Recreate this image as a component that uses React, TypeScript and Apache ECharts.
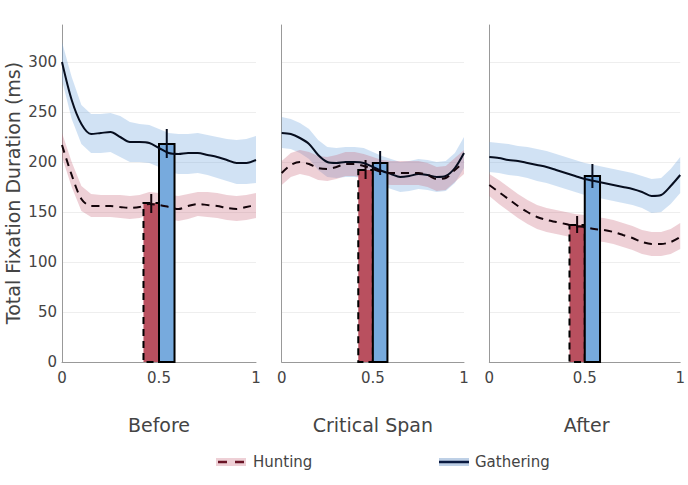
import React, { useEffect, useRef } from 'react';
import * as echarts from 'echarts';

// ---------- data ----------
const panelTitles = ['Before', 'Critical Span', 'After'];
const xPoints = [0, 0.05, 0.1, 0.15, 0.2, 0.25, 0.3, 0.35, 0.4, 0.45, 0.5, 0.55, 0.6, 0.65, 0.7, 0.75, 0.8, 0.85, 0.9, 0.95, 1];
const xTicks = [0, 0.5, 1];
const yTicks = [0, 50, 100, 150, 200, 250, 300];

// Before
const gatheringBefore = [300, 262, 238, 228, 229, 230, 225, 220, 220, 219, 214, 209, 208, 209, 209, 207, 205, 202, 199, 199, 202];
const gatheringBeforeHigh = [320, 285, 257, 248, 248, 249, 246, 240, 238, 237, 233, 229, 228, 228, 229, 227, 225, 223, 222, 223, 226];
const gatheringBeforeLow = [282, 243, 218, 209, 209, 210, 205, 200, 200, 199, 195, 190, 188, 188, 189, 187, 184, 181, 178, 178, 179];
const huntingBefore = [217, 187, 163, 156, 156, 156, 155, 154, 155, 158, 157, 155, 153, 156, 158, 157, 156, 154, 153, 155, 157];
const huntingBeforeHigh = [229, 200, 176, 168, 167, 167, 167, 166, 167, 170, 169, 167, 166, 168, 170, 170, 169, 167, 166, 167, 169];
const huntingBeforeLow = [205, 175, 151, 145, 145, 145, 144, 143, 144, 147, 146, 143, 141, 143, 146, 145, 144, 142, 141, 142, 144];

// Critical Span
const gatheringCritical = [229, 228, 224, 218, 207, 200, 199, 200, 200, 199, 195, 191, 188, 185, 186, 188, 187, 185, 186, 194, 209];
const gatheringCriticalHigh = [245, 243, 239, 233, 222, 215, 214, 215, 215, 214, 210, 206, 203, 200, 201, 203, 202, 200, 201, 209, 225];
const gatheringCriticalLow = [214, 213, 209, 203, 192, 185, 184, 185, 185, 184, 180, 176, 173, 170, 171, 173, 172, 170, 171, 179, 194];
const huntingCritical = [189, 197, 200, 198, 194, 193, 195, 198, 198, 196, 193, 190, 189, 189, 189, 189, 187, 183, 184, 192, 200];
const huntingCriticalHigh = [201, 209, 212, 210, 206, 205, 207, 210, 210, 208, 205, 202, 201, 201, 201, 201, 199, 195, 196, 204, 212];
const huntingCriticalLow = [177, 185, 188, 186, 182, 181, 183, 186, 186, 184, 181, 178, 177, 177, 177, 177, 175, 171, 172, 180, 188];

// After
const gatheringAfter = [205, 204, 202, 201, 199, 197, 195, 192, 189, 186, 183, 181, 179, 177, 175, 173, 170, 166, 167, 176, 187];
const gatheringAfterHigh = [220, 219, 218, 216, 215, 213, 211, 208, 205, 202, 199, 197, 195, 193, 191, 189, 186, 183, 184, 193, 205];
const gatheringAfterLow = [190, 189, 187, 186, 184, 181, 179, 176, 173, 170, 167, 165, 163, 161, 159, 157, 154, 149, 150, 158, 169];
const huntingAfter = [177, 170, 163, 156, 150, 145, 142, 140, 138, 136, 135, 133, 132, 130, 127, 124, 120, 118, 118, 120, 125];
const huntingAfterHigh = [188, 182, 175, 168, 162, 157, 154, 152, 150, 148, 147, 145, 144, 142, 139, 136, 132, 130, 130, 133, 139];
const huntingAfterLow = [166, 158, 151, 144, 138, 133, 130, 128, 126, 124, 123, 121, 120, 118, 115, 112, 108, 106, 106, 108, 113];

// Bar means and error bars per panel
const huntingMean = [159, 192, 137];
const huntingErrLow = [149, 183, 129];
const huntingErrHigh = [168, 202, 146];
const gatheringMean = [218, 199, 186];
const gatheringErrLow = [204, 187, 174];
const gatheringErrHigh = [233, 211, 198];
const huntingBarRange = [0.42, 0.5];
const gatheringBarRange = [0.5, 0.58];

const gatheringLines = [gatheringBefore, gatheringCritical, gatheringAfter];
const gatheringHighs = [gatheringBeforeHigh, gatheringCriticalHigh, gatheringAfterHigh];
const gatheringLows = [gatheringBeforeLow, gatheringCriticalLow, gatheringAfterLow];
const huntingLines = [huntingBefore, huntingCritical, huntingAfter];
const huntingHighs = [huntingBeforeHigh, huntingCriticalHigh, huntingAfterHigh];
const huntingLows = [huntingBeforeLow, huntingCriticalLow, huntingAfterLow];

// ---------- styles ----------
const FONT = 'DejaVu Sans';
const TEXT = '#444';
const HUNT_LINE = '#14040a';
const GATH_LINE = '#060d1e';
const HUNT_BAND = 'rgba(200,100,120,0.3)';
const GATH_BAND = 'rgba(111,164,221,0.32)';
const HUNT_BAR = '#b9505f';
const GATH_BAR = '#77aadd';

const gridBoxes = [
  { left: 62, width: 194 },
  { left: 281.7, width: 182.3 },
  { left: 489.3, width: 194.7 },
];

function bandSeries(k: number, low: number[], high: number[], color: string) {
  return {
    type: 'custom',
    xAxisIndex: k,
    yAxisIndex: k,
    silent: true,
    data: xPoints.map((x, i) => [x, low[i], high[i]]),
    encode: { x: 0, y: [1, 2] },
    renderItem: (params: any, api: any) => {
      if (params.dataIndex !== 0) return null;
      const top = xPoints.map((x, i) => api.coord([x, high[i]]));
      const bottom = xPoints.map((x, i) => api.coord([x, low[i]])).reverse();
      return {
        type: 'polygon',
        shape: { points: top.concat(bottom), smooth: 0 },
        style: { fill: color, stroke: 'none' },
      };
    },
  };
}

function lineSeries(k: number, vals: number[], color: string, dashed: boolean) {
  return {
    type: 'line',
    xAxisIndex: k,
    yAxisIndex: k,
    data: xPoints.map((x, i) => [x, vals[i]]),
    showSymbol: false,
    smooth: 0.3,
    silent: true,
    lineStyle: { color, width: 2, type: dashed ? [8, 6] : 'solid' },
  };
}

function barSeries(k: number, range: number[], mean: number, fill: string, dashed: boolean) {
  return {
    type: 'custom',
    xAxisIndex: k,
    yAxisIndex: k,
    silent: true,
    data: [[range[0], range[1], mean]],
    encode: { x: [0, 1], y: 2 },
    renderItem: (params: any, api: any) => {
      const p0 = api.coord([api.value(0), api.value(2)]);
      const p1 = api.coord([api.value(1), 0]);
      return {
        type: 'rect',
        shape: { x: p0[0], y: p0[1], width: p1[0] - p0[0], height: p1[1] - p0[1] },
        style: {
          fill,
          stroke: '#000',
          lineWidth: 2,
          lineDash: dashed ? [7, 5] : null,
        },
      };
    },
  };
}

function errSeries(k: number, x: number, lo: number, hi: number, color: string) {
  return {
    type: 'custom',
    xAxisIndex: k,
    yAxisIndex: k,
    silent: true,
    data: [[x, lo, hi]],
    encode: { x: 0, y: [1, 2] },
    renderItem: (params: any, api: any) => {
      const a = api.coord([api.value(0), api.value(1)]);
      const b = api.coord([api.value(0), api.value(2)]);
      return {
        type: 'line',
        shape: { x1: a[0], y1: a[1], x2: b[0], y2: b[1] },
        style: { stroke: color, lineWidth: 2 },
      };
    },
  };
}

function buildOption() {
  const grids = gridBoxes.map((g) => ({ left: g.left, width: g.width, top: 25, height: 337, containLabel: false }));
  const xAxes = gridBoxes.map((_, k) => ({
    type: 'value',
    gridIndex: k,
    min: xTicks[0],
    max: xTicks[xTicks.length - 1],
    interval: xTicks[1] - xTicks[0],
    axisLine: { show: true, lineStyle: { color: '#999', width: 1 } },
    axisTick: { show: false },
    splitLine: { show: false },
    axisLabel: { color: TEXT, fontFamily: FONT, fontSize: 15, margin: 8 },
  }));
  const yAxes = gridBoxes.map((_, k) => ({
    type: 'value',
    gridIndex: k,
    min: yTicks[0],
    max: 337,
    interval: yTicks[1] - yTicks[0],
    axisLine: { show: true, lineStyle: { color: '#999', width: 1 } },
    axisTick: { show: false },
    splitLine: { show: true, showMaxLine: false, showMinLine: false, lineStyle: { color: '#eee', width: 1 } },
    axisLabel: {
      show: k === 0,
      color: TEXT,
      fontFamily: FONT,
      fontSize: 15,
      margin: 5,
      showMaxLabel: false,
      formatter: (v: number) => (yTicks.indexOf(v) >= 0 ? String(v) : ''),
    },
  }));

  const series: any[] = [];
  for (let k = 0; k < 3; k++) {
    series.push(bandSeries(k, gatheringLows[k], gatheringHighs[k], GATH_BAND));
    series.push(bandSeries(k, huntingLows[k], huntingHighs[k], HUNT_BAND));
    series.push(lineSeries(k, gatheringLines[k], GATH_LINE, false));
    series.push(lineSeries(k, huntingLines[k], HUNT_LINE, true));
    series.push(barSeries(k, huntingBarRange, huntingMean[k], HUNT_BAR, true));
    series.push(barSeries(k, gatheringBarRange, gatheringMean[k], GATH_BAR, false));
    series.push(errSeries(k, (huntingBarRange[0] + huntingBarRange[1]) / 2, huntingErrLow[k], huntingErrHigh[k], HUNT_LINE));
    series.push(errSeries(k, (gatheringBarRange[0] + gatheringBarRange[1]) / 2, gatheringErrLow[k], gatheringErrHigh[k], GATH_LINE));
  }

  const graphic: any[] = [
    {
      type: 'text',
      x: 13,
      y: 193,
      rotation: Math.PI / 2,
      style: {
        text: 'Total Fixation Duration (ms)',
        fill: TEXT,
        font: `19px "${FONT}"`,
        align: 'center',
        verticalAlign: 'middle',
      },
    },
  ];
  panelTitles.forEach((t, k) => {
    const g = gridBoxes[k];
    graphic.push({
      type: 'text',
      x: g.left + g.width / 2,
      y: 425,
      style: { text: t, fill: TEXT, font: `19px "${FONT}"`, align: 'center', verticalAlign: 'middle' },
    });
  });
  // legend
  graphic.push(
    { type: 'rect', shape: { x: 216, y: 458, width: 30, height: 8 }, style: { fill: HUNT_BAND } },
    { type: 'line', shape: { x1: 218, y1: 462, x2: 245, y2: 462 }, style: { stroke: '#6a1426', lineWidth: 2.5, lineDash: [9, 8] } },
    { type: 'text', x: 253, y: 462, style: { text: 'Hunting', fill: TEXT, font: `15px "${FONT}"`, align: 'left', verticalAlign: 'middle' } },
    { type: 'rect', shape: { x: 439, y: 458, width: 30, height: 8 }, style: { fill: 'rgba(111,150,200,0.45)' } },
    { type: 'line', shape: { x1: 439, y1: 462, x2: 469, y2: 462 }, style: { stroke: '#0a1a40', lineWidth: 2.5 } },
    { type: 'text', x: 475, y: 462, style: { text: 'Gathering', fill: TEXT, font: `15px "${FONT}"`, align: 'left', verticalAlign: 'middle' } }
  );

  return {
    animation: false,
    backgroundColor: '#fff',
    textStyle: { fontFamily: FONT },
    grid: grids,
    xAxis: xAxes,
    yAxis: yAxes,
    series,
    graphic,
  };
}

export default function App() {
  const ref = useRef<HTMLDivElement>(null);
  useEffect(() => {
    if (!ref.current) return;
    const chart = echarts.init(ref.current, null, { renderer: 'svg' });
    chart.setOption(buildOption() as any);
    return () => chart.dispose();
  }, []);
  return <div ref={ref} style={{ position: 'fixed', left: 0, top: 0, width: 688, height: 485 }} />;
}
